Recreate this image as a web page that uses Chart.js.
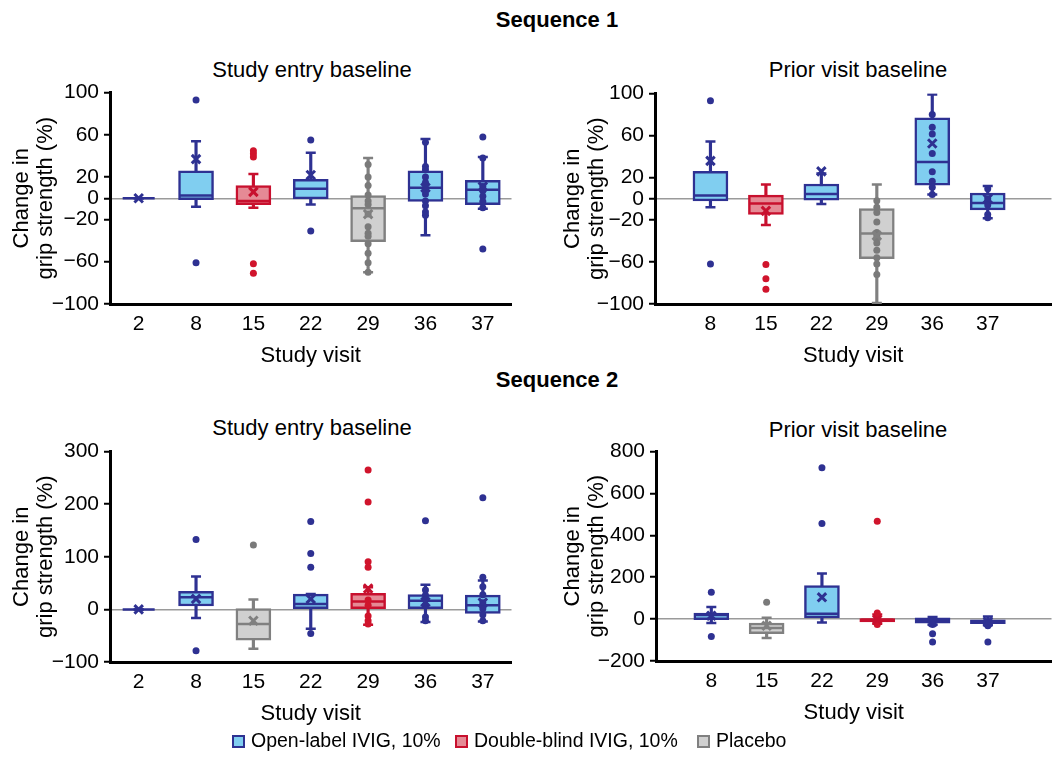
<!DOCTYPE html>
<html>
<head>
<meta charset="utf-8">
<script src="https://cdn.jsdelivr.net/npm/chart.js@4.4.1/dist/chart.umd.min.js"></script>
<style>
  html, body { margin: 0; padding: 0; background: #fff; overflow: hidden; }
  body { width: 1057px; height: 764px; position: relative; font-family: "Liberation Sans", Arial, sans-serif; color: #000; }
  .txt { position: absolute; font-size: 22px; line-height: 24px; text-align: center; white-space: nowrap; }
  .bold { font-weight: bold; font-size: 22px; }
  .panel { position: absolute; }
  .legend { position: absolute; top: 728px; left: 0; width: 1057px; height: 24px; font-size: 19.5px; }
  .legend span.item { position: absolute; line-height: 24px; white-space: nowrap; }
  .legend i { display: inline-block; width: 9px; height: 9px; border: 2.5px solid; vertical-align: -1px; margin-right: 6px; }
</style>
</head>
<body>
<div class="txt bold" style="left:0;width:1114px;top:8px">Sequence 1</div>
<div class="txt" style="left:112px;width:400px;top:58px">Study entry baseline</div>
<div class="txt" style="left:658px;width:400px;top:58px">Prior visit baseline</div>
<div class="txt bold" style="left:0;width:1114px;top:368px">Sequence 2</div>
<div class="txt" style="left:112px;width:400px;top:416px">Study entry baseline</div>
<div class="txt" style="left:658px;width:400px;top:418px">Prior visit baseline</div>

<div class="panel" style="left:0;top:74px"><canvas id="s1Entry" width="530" height="298"></canvas></div>
<div class="panel" style="left:530px;top:75px"><canvas id="s1Prior" width="540" height="297"></canvas></div>
<div class="panel" style="left:0;top:433px"><canvas id="s2Entry" width="530" height="297"></canvas></div>
<div class="panel" style="left:530px;top:433px"><canvas id="s2Prior" width="540" height="296"></canvas></div>

<div class="legend">
  <span class="item" style="left:232px"><i style="background:#80cef0;border-color:#2e3192"></i>Open-label IVIG, 10%</span>
  <span class="item" style="left:455px"><i style="background:#e58a95;border-color:#c8102e"></i>Double-blind IVIG, 10%</span>
  <span class="item" style="left:697px"><i style="background:#d0d0d0;border-color:#808080"></i>Placebo</span>
</div>

<script>
// === Data ===
const visits = ['2', '8', '15', '22', '29', '36', '37'];

// Sequence 1, study entry baseline
const s1eVisit = ['2', '8', '15', '22', '29', '36', '37'];
const s1eArm = ['open', 'open', 'double', 'open', 'placebo', 'open', 'open'];
const s1eLow = [0, -8, -9, -6, -70, -35, -10];
const s1eQ1 = [0, -1.3, -6, -0.6, -41, -3, -6];
const s1eMed = [0, 2.5, -2.5, 9, -9.5, 10, 8];
const s1eQ3 = [0, 26, 12, 18, 2.5, 26, 17];
const s1eHigh = [0, 54, 23, 43, 38, 56, 39];
const s1eMean = [0, 37, 6, 22, -15, 10, 11];
const s1eDots = [[], [93, -61], [45, 42, 39, -62, -71], [55, -31],
  [32, 20, 12, 3, -2.5, -6, -15, -27, -33, -36, -43, -52, -61, -70],
  [53, 30, 27, 20, 15, 9, 4, -2.5, -7, -13, -16],
  [58, 38, 11, 7, 2, -3, -9, -48]];

// Sequence 1, prior visit baseline
const s1pVisit = ['8', '15', '22', '29', '36', '37'];
const s1pArm = ['open', 'double', 'open', 'placebo', 'open', 'open'];
const s1pLow = [-8, -25, -5, -99, 4, -18.5];
const s1pQ1 = [-2, -15, -1.3, -57, 13, -10.5];
const s1pMed = [3, -4.5, 4.5, -33, 35, -4];
const s1pQ3 = [26, 3.5, 14, -9.3, 77, 5.5];
const s1pHigh = [54.5, 13.5, 24, 13.5, 99, 12];
const s1pMean = [36, -11.5, 26, -35, 52.5, 0];
const s1pDots = [[93, -62], [-62.5, -76, -86], [],
  [-2, -8, -13, -22, -32, -35, -38, -42, -49, -56, -62, -72],
  [80, 68, 61.5, 43, 25.6, 16.7, 11, 4],
  [9.6, 0, -3, -6, -15, -18]];

// Sequence 2, study entry baseline
const s2eVisit = ['2', '8', '15', '22', '29', '36', '37'];
const s2eArm = ['open', 'open', 'placebo', 'open', 'double', 'open', 'open'];
const s2eLow = [0, -16.6, -75, -37, -29, -24, -23];
const s2eQ1 = [0, 6.4, -58.7, 1.3, 1.3, 1.3, -7.7];
const s2eMed = [0, 23, -28, 10, 15, 16.6, 7.7];
const s2eQ3 = [0, 34.5, 1.3, 29, 30.6, 28, 27];
const s2eHigh = [0, 62.5, 19, 29, 42, 47, 55];
const s2eMean = [0, 20, -21.7, 20, 39.6, 14, 12.8];
const s2eDots = [[], [133, -78.5], [122.5], [167, 106, 80, -46],
  [265, 204, 90.6, 80, 18, 7.7, -12.8, -21.7, -28],
  [168.5, 37, 27, 19, 7.7, -14.7, -21.7],
  [212, 61, 43, 28, 12.8, 1.3, -10, -21.7]];

// Sequence 2, prior visit baseline
const s2pVisit = ['8', '15', '22', '29', '36', '37'];
const s2pArm = ['open', 'placebo', 'open', 'double', 'open', 'open'];
const s2pLow = [-19, -90, -16, -22, -26, -29];
const s2pQ1 = [-3, -70, 6, -13, -19, -22];
const s2pMed = [19, -42, 26, -3, -6, -10];
const s2pQ3 = [29, -19, 160, 3, 6, 0];
const s2pHigh = [58, 6, 218, 22, 10, 13];
const s2pMean = [16, -32, 104, -3, -13, -13];
const s2pDots = [[128, -83], [80], [723, 456], [467, 29, 13, -26], [-26, -70, -109], [-32, -109]];

// y-axis tick labels
const seq1Ticks = [100, 60, 20, 0, -20, -60, -100];
const s2eTicks = [300, 200, 100, 0, -100];
const s2pTicks = [800, 600, 400, 200, 0, -200];

// === Styles ===
const armStyle = {
  open:    { fill: '#80cef0', stroke: '#2e3192', dot: '#2e3192' },
  double:  { fill: '#e58a95', stroke: '#c8102e', dot: '#d0142c' },
  placebo: { fill: '#d0d0d0', stroke: '#808080', dot: '#7a7a7a' }
};
const FAMILY = '"Liberation Sans", Arial, sans-serif';
const TICK_FONT = { family: FAMILY, size: 21 };
const TITLE_FONT = { family: FAMILY, size: 22 };
Chart.defaults.font.family = FAMILY;
Chart.defaults.color = '#000';

const fmt = v => (v < 0 ? '\u2212' + Math.abs(v) : String(v));

function boxChart(id, p) {
  const pos = p.visit.map(v => visits.indexOf(v));
  const stroke = p.arm.map(a => armStyle[a].stroke);

  const caps = [], capColors = [];
  p.visit.forEach((v, i) => {
    caps.push({ x: pos[i], y: p.low[i] }, { x: pos[i], y: p.high[i] });
    capColors.push(stroke[i], stroke[i]);
  });
  const dots = [], dotColors = [];
  p.dots.forEach((list, i) => list.forEach(y => {
    dots.push({ x: pos[i], y });
    dotColors.push(armStyle[p.arm[i]].dot);
  }));

  new Chart(document.getElementById(id), {
    type: 'bar',
    data: {
      datasets: [
        { // whiskers
          type: 'bar', grouped: false, order: 6, barThickness: 2.5,
          data: pos.map((x, i) => ({ x, y: [p.low[i], p.high[i]] })),
          backgroundColor: stroke, borderWidth: 0
        },
        { // whisker caps
          type: 'scatter', order: 5,
          data: caps, pointStyle: 'line', pointRadius: 5,
          pointBorderWidth: 2.5, pointBorderColor: capColors
        },
        { // boxes
          type: 'bar', grouped: false, order: 4, barThickness: 35,
          data: pos.map((x, i) => ({ x, y: [p.q1[i], p.q3[i]] })),
          backgroundColor: p.arm.map(a => armStyle[a].fill),
          borderColor: stroke, borderWidth: 2.5, borderSkipped: false
        },
        { // medians
          type: 'scatter', order: 3,
          data: pos.map((x, i) => ({ x, y: p.med[i] })),
          pointStyle: 'line', pointRadius: 16, pointBorderWidth: 2.5, pointBorderColor: stroke
        },
        { // individual values
          type: 'scatter', order: 2,
          data: dots, pointStyle: 'circle', pointRadius: 3.5,
          pointBackgroundColor: dotColors, pointBorderWidth: 0
        },
        { // means
          type: 'scatter', order: 1,
          data: pos.map((x, i) => ({ x, y: p.mean[i] })),
          pointStyle: 'crossRot', pointRadius: 6, pointBorderWidth: 3, pointBorderColor: stroke
        }
      ]
    },
    options: {
      responsive: false,
      animation: false,
      layout: { padding: { top: 0, right: p.padRight, bottom: 0, left: 0 } },
      plugins: { legend: { display: false }, tooltip: { enabled: false } },
      scales: {
        x: {
          type: 'linear', offset: false, min: p.xMin, max: p.xMax,
          grid: { display: false, drawTicks: false },
          border: { display: true, color: '#000', width: 3 },
          afterBuildTicks: s => { s.ticks = pos.map(v => ({ value: v })); },
          afterFit: s => { s.height = 68; },
          ticks: { autoSkip: false, maxRotation: 0, padding: 8, font: TICK_FONT, color: '#000',
                   callback: v => visits[v] },
          title: { display: true, text: 'Study visit', font: TITLE_FONT, color: '#000', padding: { top: 2, bottom: 3 } }
        },
        y: {
          min: p.ticks[p.ticks.length - 1], max: p.ticks[0],
          afterBuildTicks: s => { s.ticks = p.ticks.map(v => ({ value: v })); },
          afterFit: s => { s.width = p.yWidth; },
          grid: {
            drawOnChartArea: true, drawTicks: true, tickLength: 6, tickWidth: 2, tickColor: '#000',
            color: c => (c.tick && c.tick.value === 0 ? '#9a9a9a' : 'rgba(0,0,0,0)'), lineWidth: 1.5
          },
          border: { display: true, color: '#000', width: 3 },
          ticks: { padding: 5, font: TICK_FONT, color: '#000', callback: v => fmt(v) },
          title: { display: true, text: ['Change in', 'grip strength (%)'], color: '#000',
                   font: { family: FAMILY, size: 22, lineHeight: 1.1 }, padding: { top: p.titlePad, bottom: 0 } }
        }
      }
    }
  });
}

boxChart('s1Entry', { visit: s1eVisit, arm: s1eArm, low: s1eLow, q1: s1eQ1, med: s1eMed, q3: s1eQ3,
  high: s1eHigh, mean: s1eMean, dots: s1eDots, ticks: seq1Ticks,
  xMin: -0.5, xMax: 6.5, yWidth: 110, titlePad: 10, padRight: 16 });
boxChart('s1Prior', { visit: s1pVisit, arm: s1pArm, low: s1pLow, q1: s1pQ1, med: s1pMed, q3: s1pQ3,
  high: s1pHigh, mean: s1pMean, dots: s1pDots, ticks: seq1Ticks,
  xMin: 0, xMax: 7.15, yWidth: 125, titlePad: 31, padRight: 0 });
boxChart('s2Entry', { visit: s2eVisit, arm: s2eArm, low: s2eLow, q1: s2eQ1, med: s2eMed, q3: s2eQ3,
  high: s2eHigh, mean: s2eMean, dots: s2eDots, ticks: s2eTicks,
  xMin: -0.5, xMax: 6.5, yWidth: 110, titlePad: 10, padRight: 16 });
boxChart('s2Prior', { visit: s2pVisit, arm: s2pArm, low: s2pLow, q1: s2pQ1, med: s2pMed, q3: s2pQ3,
  high: s2pHigh, mean: s2pMean, dots: s2pDots, ticks: s2pTicks,
  xMin: 0, xMax: 7.15, yWidth: 126, titlePad: 31, padRight: 0 });
</script>
</body>
</html>
